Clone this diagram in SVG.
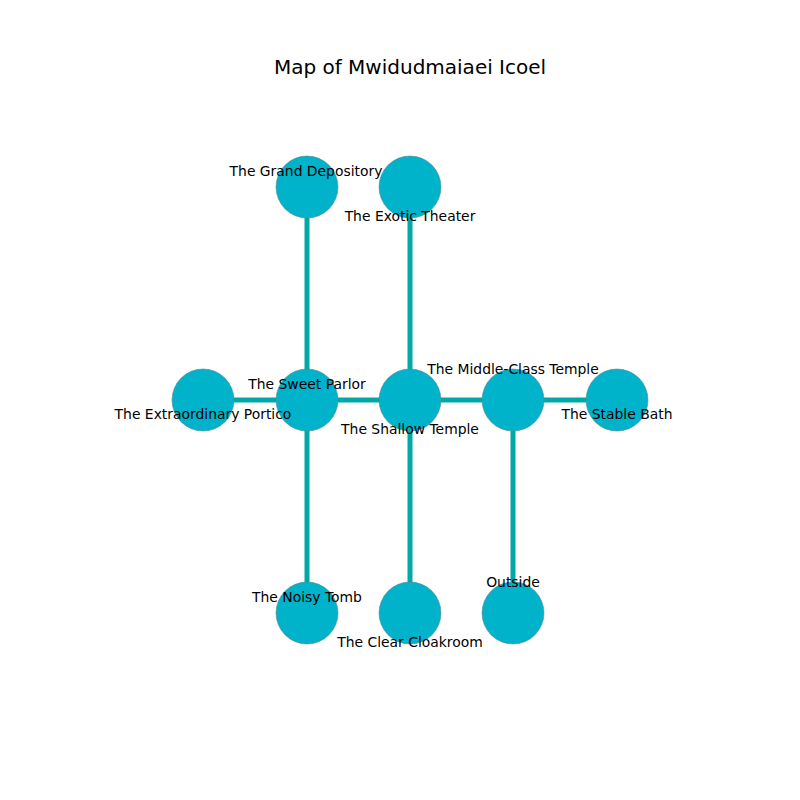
<svg xmlns="http://www.w3.org/2000/svg" width="800" height="800" viewBox="0 0 800 800">
<style>
.e{stroke:#00A8A8;stroke-width:5;fill:none}
.n{fill:#00B2CA;stroke:#5A8A90;stroke-width:0.6}
.l{font-family:"DejaVu Sans",sans-serif;font-size:13.9px;fill:#000;text-anchor:middle;dominant-baseline:central}
.t{font-family:"DejaVu Sans",sans-serif;font-size:20px;fill:#000;text-anchor:middle;dominant-baseline:central}
</style>
<rect width="800" height="800" fill="#fff"/>
<text class="t" x="410" y="67">Map of Mwidudmaiaei Icoel</text>
<g id="connectors">
<line class="e" x1="307" y1="187" x2="307" y2="400"/>
<line class="e" x1="410" y1="187" x2="410" y2="400"/>
<line class="e" x1="203" y1="400" x2="617" y2="400"/>
<line class="e" x1="307" y1="400" x2="307" y2="613"/>
<line class="e" x1="410" y1="400" x2="410" y2="613"/>
<line class="e" x1="513" y1="400" x2="513" y2="613"/>
</g>
<g id="grand-depository"><circle class="n" cx="307" cy="187" r="31"/></g>
<g id="exotic-theater"><circle class="n" cx="410" cy="187" r="31"/></g>
<g id="extraordinary-portico"><circle class="n" cx="203" cy="400" r="31"/></g>
<g id="sweet-parlor"><circle class="n" cx="307" cy="400" r="31"/></g>
<g id="shallow-temple"><circle class="n" cx="410" cy="400" r="31"/></g>
<g id="middle-class-temple"><circle class="n" cx="513" cy="400" r="31"/></g>
<g id="stable-bath"><circle class="n" cx="617" cy="400" r="31"/></g>
<g id="noisy-tomb"><circle class="n" cx="307" cy="613" r="31"/></g>
<g id="clear-cloakroom"><circle class="n" cx="410" cy="613" r="31"/></g>
<g id="outside"><circle class="n" cx="513" cy="613" r="31"/></g>
<g id="labels">
<text class="l" x="306" y="171">The Grand Depository</text>
<text class="l" x="410" y="216">The Exotic Theater</text>
<text class="l" x="203" y="414">The Extraordinary Portico</text>
<text class="l" x="307" y="384">The Sweet Parlor</text>
<text class="l" x="410" y="429">The Shallow Temple</text>
<text class="l" x="513" y="369">The Middle-Class Temple</text>
<text class="l" x="617" y="414">The Stable Bath</text>
<text class="l" x="307" y="597">The Noisy Tomb</text>
<text class="l" x="410" y="642">The Clear Cloakroom</text>
<text class="l" x="513" y="582">Outside</text>
</g>
</svg>
